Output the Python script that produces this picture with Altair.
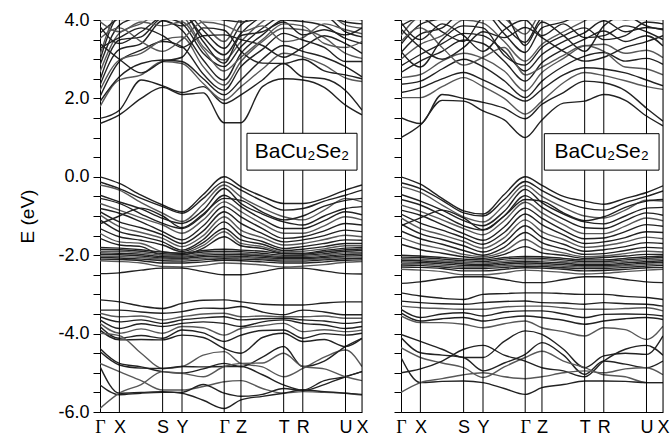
import altair as alt
import pandas as pd

FONT = "Liberation Sans"

# high-symmetry points along the k-path (fraction of path length)
K_NAMES = ["Γ", "X", "S", "Y", "Γ", "Z", "T", "R", "U", "X"]
K_TICKS = [0.0, 0.074, 0.239, 0.313, 0.474, 0.538, 0.701, 0.774, 0.937, 1.0]
# sampling points: Γ, X, mid, S, Y, mid, Γ, Z, mid, T, R, mid, U, X
K_SAMPLES = [0.0, 0.074, 0.157, 0.239, 0.313, 0.394, 0.474, 0.538, 0.620, 0.701, 0.774, 0.856, 0.937, 1.0]

E_TICKS = [-6.0, -5.5, -5.0, -4.5, -4.0, -3.5, -3.0, -2.5, -2.0, -1.5, -1.0,
           -0.5, 0.0, 0.5, 1.0, 1.5, 2.0, 2.5, 3.0, 3.5, 4.0]

LABEL_TEXT = "BaCu₂Se₂"
LEFT_BOX = {"k0": 0.561, "k1": 0.981, "e0": 0.17, "e1": 1.11, "kt": 0.771, "et": 0.64}
RIGHT_BOX = {"k0": 0.547, "k1": 0.985, "e0": 0.17, "e1": 1.10, "kt": 0.766, "et": 0.64}

# ---------------- left panel bands (eV) ----------------
LEFT_COND = [
    [1.36, 1.58, 2.00, 2.28, 2.10, 2.14, 1.38, 1.38, 2.30, 2.50, 2.47, 2.28, 1.83, 1.58],
    [1.49, 1.70, 2.47, 2.32, 2.15, 2.30, 1.87, 2.09, 2.47, 2.89, 2.55, 2.50, 2.20, 1.70],
    [1.79, 2.47, 2.60, 2.94, 2.89, 2.38, 1.96, 2.30, 2.75, 3.15, 3.06, 2.85, 2.52, 2.43],
    [1.92, 2.55, 2.89, 2.98, 2.94, 2.50, 2.09, 2.47, 3.00, 3.35, 3.20, 3.05, 2.81, 2.55],
    [2.04, 2.94, 3.23, 3.45, 3.32, 2.62, 2.21, 2.81, 3.25, 3.66, 3.49, 3.30, 2.94, 2.94],
    [2.21, 2.98, 3.15, 3.49, 3.57, 2.81, 2.34, 2.94, 3.45, 3.79, 3.75, 3.55, 3.15, 3.02],
    [2.34, 3.25, 3.40, 3.98, 3.74, 2.98, 2.47, 3.15, 3.62, 4.00, 3.96, 3.85, 3.53, 3.40],
    [2.47, 3.49, 3.57, 4.05, 3.91, 3.15, 2.81, 3.32, 3.79, 4.10, 4.10, 4.10, 3.70, 3.57],
    [2.68, 3.66, 3.91, 4.20, 4.10, 3.32, 2.98, 3.45, 3.96, 4.20, 4.20, 4.20, 3.87, 3.79],
    [2.85, 3.87, 4.10, 4.30, 4.20, 3.57, 3.11, 3.66, 4.10, 4.30, 4.30, 4.30, 4.10, 4.00],
    [2.98, 4.10, 4.20, 4.40, 4.30, 3.74, 3.28, 3.87, 4.20, 4.40, 4.40, 4.40, 4.20, 4.10],
    [3.11, 4.20, 4.30, 4.50, 4.40, 3.91, 3.45, 4.05, 4.30, 4.50, 4.50, 4.50, 4.30, 4.20],
    [3.28, 3.55, 3.80, 3.60, 3.30, 3.60, 3.62, 3.50, 3.35, 3.05, 3.30, 3.60, 3.40, 3.15],
    [3.40, 3.00, 2.65, 2.94, 3.05, 3.80, 3.74, 3.20, 2.90, 2.89, 3.00, 2.70, 2.60, 2.50],
    [3.53, 3.80, 3.45, 3.20, 3.50, 3.95, 3.87, 3.70, 3.85, 3.45, 3.55, 3.90, 3.75, 3.65],
    [3.66, 4.05, 4.20, 4.00, 3.85, 4.10, 4.00, 3.95, 4.05, 4.15, 4.05, 4.10, 3.95, 3.90],
    [3.83, 3.40, 3.70, 4.10, 4.20, 3.45, 2.90, 3.60, 3.70, 3.95, 3.62, 3.75, 3.62, 3.80],
    [3.96, 3.70, 3.95, 3.85, 3.95, 3.25, 2.70, 3.05, 3.50, 3.90, 3.85, 3.40, 3.30, 3.45],
]
LEFT_VAL = [
    [0.00, -0.17, -0.47, -0.72, -0.89, -0.45, 0.00, -0.25, -0.50, -0.68, -0.68, -0.55, -0.34, -0.21],
    [-0.13, -0.30, -0.55, -0.76, -0.93, -0.55, -0.13, -0.34, -0.62, -0.85, -0.81, -0.62, -0.47, -0.34],
    [-0.21, -0.34, -0.66, -0.93, -1.14, -0.70, -0.21, -0.51, -0.80, -1.02, -1.10, -0.85, -0.55, -0.64],
    [-0.47, -0.64, -0.82, -1.06, -1.19, -0.85, -0.30, -0.68, -0.95, -1.15, -1.23, -1.00, -0.81, -0.76],
    [-0.55, -0.68, -0.95, -1.19, -1.32, -0.98, -0.47, -0.76, -1.08, -1.32, -1.32, -1.12, -0.89, -0.97],
    [-0.68, -0.85, -1.05, -1.23, -1.44, -1.10, -0.64, -0.89, -1.20, -1.44, -1.44, -1.25, -1.02, -1.10],
    [-0.81, -0.93, -1.15, -1.40, -1.61, -1.25, -0.76, -1.02, -1.32, -1.57, -1.53, -1.38, -1.19, -1.23],
    [-0.89, -1.15, -1.30, -1.48, -1.70, -1.38, -0.89, -1.19, -1.45, -1.66, -1.61, -1.50, -1.36, -1.40],
    [-0.97, -1.27, -1.42, -1.57, -1.78, -1.50, -1.02, -1.36, -1.55, -1.74, -1.70, -1.60, -1.49, -1.53],
    [-1.10, -1.40, -1.52, -1.66, -1.87, -1.60, -1.15, -1.49, -1.65, -1.83, -1.78, -1.70, -1.61, -1.62],
    [-1.32, -1.53, -1.62, -1.74, -1.91, -1.68, -1.32, -1.61, -1.72, -1.88, -1.85, -1.78, -1.70, -1.70],
    [-1.44, -1.66, -1.70, -1.91, -1.95, -1.75, -1.40, -1.70, -1.78, -1.92, -1.90, -1.84, -1.76, -1.76],
    [-1.57, -1.74, -1.78, -2.00, -2.00, -1.82, -1.53, -1.76, -1.83, -1.95, -1.95, -1.88, -1.82, -1.80],
    [-1.20, -1.00, -0.80, -1.00, -1.30, -0.95, -0.55, -0.60, -0.90, -1.10, -1.00, -0.75, -0.60, -0.55],
]
LEFT_D = [
    [-1.80, -1.82, -1.86, -1.92, -1.95, -1.88, -1.85, -1.87, -1.90, -1.96, -1.97, -1.92, -1.86, -1.84],
    [-1.85, -1.86, -1.90, -1.96, -1.98, -1.92, -1.90, -1.91, -1.95, -2.00, -2.00, -1.96, -1.90, -1.88],
    [-1.90, -1.90, -1.94, -2.00, -2.02, -1.96, -1.94, -1.95, -1.99, -2.03, -2.03, -1.99, -1.94, -1.93],
    [-1.94, -1.95, -1.98, -2.04, -2.05, -2.00, -1.98, -1.99, -2.02, -2.06, -2.06, -2.03, -1.98, -1.97],
    [-1.98, -1.99, -2.02, -2.07, -2.08, -2.04, -2.02, -2.03, -2.06, -2.09, -2.09, -2.06, -2.02, -2.01],
    [-2.02, -2.03, -2.06, -2.10, -2.11, -2.08, -2.06, -2.06, -2.09, -2.12, -2.12, -2.09, -2.05, -2.05],
    [-2.06, -2.07, -2.10, -2.14, -2.15, -2.12, -2.09, -2.10, -2.12, -2.15, -2.15, -2.12, -2.09, -2.08],
    [-2.10, -2.11, -2.14, -2.20, -2.20, -2.17, -2.13, -2.14, -2.17, -2.20, -2.20, -2.17, -2.13, -2.12],
    [-2.14, -2.16, -2.20, -2.29, -2.30, -2.26, -2.20, -2.21, -2.25, -2.30, -2.28, -2.24, -2.18, -2.16],
    [-2.47, -2.45, -2.38, -2.33, -2.33, -2.42, -2.50, -2.50, -2.42, -2.33, -2.33, -2.40, -2.47, -2.48],
]
LEFT_LOW = [
    [-3.14, -3.19, -3.30, -3.36, -3.23, -3.15, -3.14, -3.19, -3.25, -3.27, -3.27, -3.22, -3.19, -3.19],
    [-3.40, -3.40, -3.45, -3.48, -3.44, -3.35, -3.36, -3.31, -3.45, -3.52, -3.40, -3.45, -3.52, -3.52],
    [-3.48, -3.57, -3.55, -3.65, -3.57, -3.50, -3.48, -3.57, -3.55, -3.57, -3.57, -3.55, -3.61, -3.61],
    [-3.57, -3.70, -3.65, -3.74, -3.65, -3.60, -3.57, -3.65, -3.62, -3.61, -3.65, -3.68, -3.74, -3.70],
    [-3.65, -3.87, -3.75, -3.82, -3.74, -3.70, -3.74, -3.82, -3.70, -3.65, -3.74, -3.78, -3.87, -3.82],
    [-3.74, -3.99, -3.88, -3.99, -3.82, -3.85, -4.04, -3.87, -3.80, -3.74, -3.95, -3.90, -3.95, -3.91],
    [-3.82, -4.12, -4.05, -4.12, -3.91, -3.98, -4.20, -4.04, -3.92, -3.91, -4.12, -4.00, -4.04, -3.99],
    [-3.91, -4.16, -4.15, -4.16, -4.04, -4.10, -4.38, -4.50, -4.10, -3.99, -4.20, -4.15, -4.33, -4.12],
    [-3.99, -4.05, -4.50, -4.89, -4.84, -4.55, -4.46, -4.76, -4.85, -5.10, -4.89, -4.60, -4.42, -4.84],
    [-4.38, -4.76, -4.85, -4.97, -5.01, -4.90, -4.76, -4.84, -4.60, -4.33, -4.84, -4.70, -4.33, -4.12],
    [-4.46, -4.80, -4.88, -4.89, -4.84, -4.85, -4.84, -4.84, -5.05, -5.31, -5.44, -5.20, -5.10, -4.97],
    [-4.76, -4.97, -5.20, -5.44, -5.44, -5.35, -5.23, -5.20, -5.40, -5.52, -5.48, -5.50, -5.52, -5.57],
    [-4.84, -5.52, -5.50, -5.48, -5.52, -5.70, -5.91, -5.69, -5.60, -5.52, -5.44, -5.48, -5.52, -5.55],
    [-5.31, -5.56, -5.52, -5.50, -5.50, -5.30, -5.52, -5.60, -5.55, -5.40, -5.45, -5.30, -5.10, -4.97],
    [-5.91, -5.52, -5.30, -4.97, -5.01, -5.10, -4.84, -4.76, -4.75, -4.50, -4.84, -4.90, -5.10, -5.20],
]

# ---------------- right panel bands (eV) ----------------
RIGHT_COND = [
    [1.00, 1.32, 1.95, 1.93, 1.68, 1.45, 1.00, 1.45, 1.88, 1.93, 2.10, 1.95, 1.55, 1.30],
    [1.51, 1.36, 2.10, 2.00, 1.90, 1.75, 1.48, 1.85, 2.15, 2.44, 2.40, 2.20, 1.75, 1.42],
    [2.02, 2.02, 2.30, 2.53, 2.30, 2.00, 1.60, 1.93, 2.40, 2.66, 2.58, 2.45, 2.30, 2.23],
    [2.15, 2.27, 2.50, 2.66, 2.47, 2.20, 1.93, 2.23, 2.60, 2.78, 2.75, 2.65, 2.47, 2.32],
    [2.36, 2.44, 2.75, 3.00, 2.81, 2.45, 2.02, 2.44, 2.82, 3.08, 3.17, 2.95, 3.02, 2.87],
    [2.53, 2.61, 2.95, 3.15, 3.02, 2.70, 2.19, 2.66, 3.02, 3.34, 3.38, 3.15, 3.23, 3.04],
    [2.66, 2.95, 3.20, 3.49, 3.40, 2.95, 2.44, 2.91, 3.25, 3.51, 3.72, 3.45, 3.60, 3.34],
    [2.83, 3.12, 3.40, 3.66, 3.60, 3.20, 2.70, 3.12, 3.45, 3.68, 3.98, 3.70, 3.81, 3.77],
    [3.00, 3.38, 3.60, 4.00, 3.92, 3.45, 2.95, 3.38, 3.70, 3.98, 4.20, 4.00, 4.10, 4.10],
    [3.17, 3.64, 3.80, 4.20, 4.20, 3.65, 3.17, 3.80, 3.95, 4.20, 4.30, 4.20, 4.30, 4.30],
    [3.38, 3.89, 4.05, 4.30, 4.30, 3.85, 3.43, 4.06, 4.20, 4.30, 4.40, 4.30, 4.40, 4.40],
    [3.60, 4.10, 4.20, 4.40, 4.40, 4.05, 3.64, 4.20, 4.30, 4.40, 4.50, 4.40, 4.50, 4.50],
    [3.77, 3.30, 3.00, 3.30, 3.70, 3.55, 3.81, 3.55, 3.20, 2.95, 3.05, 3.30, 3.45, 3.60],
    [3.94, 3.50, 3.90, 3.60, 3.20, 3.75, 4.00, 3.60, 3.90, 3.55, 3.60, 3.85, 3.70, 3.50],
    [3.45, 3.80, 3.30, 2.85, 3.05, 3.30, 2.60, 2.80, 3.10, 3.35, 3.20, 2.80, 2.75, 2.60],
    [3.20, 2.80, 3.50, 3.85, 3.80, 3.10, 2.85, 3.30, 3.60, 3.80, 3.50, 3.60, 3.95, 3.90],
    [3.85, 4.05, 3.70, 3.45, 4.05, 4.10, 3.35, 3.95, 3.60, 3.20, 3.85, 4.10, 3.85, 3.75],
]
RIGHT_VAL = [
    [0.00, -0.19, -0.55, -0.87, -0.95, -0.45, 0.00, -0.22, -0.50, -0.62, -0.70, -0.55, -0.40, -0.23],
    [-0.15, -0.30, -0.60, -0.92, -1.00, -0.58, -0.12, -0.35, -0.62, -0.80, -0.85, -0.66, -0.50, -0.36],
    [-0.25, -0.40, -0.72, -1.02, -1.15, -0.72, -0.22, -0.50, -0.78, -1.00, -1.05, -0.85, -0.60, -0.62],
    [-0.45, -0.62, -0.85, -1.12, -1.25, -0.88, -0.32, -0.66, -0.95, -1.15, -1.20, -1.00, -0.80, -0.78],
    [-0.58, -0.72, -0.98, -1.25, -1.36, -1.00, -0.48, -0.78, -1.08, -1.30, -1.32, -1.12, -0.92, -0.98],
    [-0.72, -0.88, -1.10, -1.32, -1.48, -1.12, -0.65, -0.92, -1.22, -1.45, -1.45, -1.26, -1.05, -1.12],
    [-0.85, -0.98, -1.22, -1.45, -1.62, -1.28, -0.80, -1.06, -1.36, -1.58, -1.56, -1.40, -1.22, -1.26],
    [-0.95, -1.18, -1.36, -1.55, -1.72, -1.42, -0.95, -1.22, -1.48, -1.70, -1.66, -1.55, -1.40, -1.42],
    [-1.05, -1.32, -1.48, -1.65, -1.82, -1.55, -1.10, -1.40, -1.60, -1.80, -1.76, -1.66, -1.54, -1.58],
    [-1.20, -1.45, -1.60, -1.76, -1.92, -1.68, -1.25, -1.54, -1.72, -1.90, -1.86, -1.78, -1.68, -1.70],
    [-1.38, -1.58, -1.72, -1.88, -2.00, -1.80, -1.42, -1.68, -1.84, -1.98, -1.96, -1.88, -1.80, -1.82],
    [-1.55, -1.72, -1.84, -1.98, -2.04, -1.90, -1.60, -1.82, -1.94, -2.04, -2.02, -1.96, -1.90, -1.92],
    [-1.72, -1.86, -1.95, -2.04, -2.08, -1.98, -1.78, -1.94, -2.00, -2.08, -2.06, -2.02, -1.98, -1.98],
    [-1.25, -1.05, -0.85, -1.05, -1.35, -1.00, -0.58, -0.62, -0.92, -1.12, -1.02, -0.78, -0.62, -0.58],
]
RIGHT_D = [
    [-2.00, -2.02, -2.06, -2.10, -2.12, -2.06, -2.03, -2.04, -2.08, -2.12, -2.12, -2.08, -2.04, -2.02],
    [-2.05, -2.06, -2.10, -2.14, -2.16, -2.10, -2.07, -2.08, -2.12, -2.16, -2.16, -2.12, -2.08, -2.06],
    [-2.09, -2.10, -2.14, -2.18, -2.20, -2.15, -2.12, -2.12, -2.16, -2.20, -2.20, -2.16, -2.12, -2.10],
    [-2.13, -2.14, -2.18, -2.22, -2.24, -2.19, -2.16, -2.17, -2.20, -2.24, -2.24, -2.20, -2.16, -2.14],
    [-2.17, -2.18, -2.22, -2.26, -2.27, -2.23, -2.20, -2.21, -2.24, -2.27, -2.27, -2.24, -2.20, -2.18],
    [-2.21, -2.22, -2.26, -2.30, -2.30, -2.27, -2.24, -2.25, -2.28, -2.30, -2.30, -2.27, -2.24, -2.22],
    [-2.25, -2.26, -2.30, -2.34, -2.34, -2.31, -2.28, -2.29, -2.32, -2.34, -2.34, -2.31, -2.28, -2.26],
    [-2.30, -2.31, -2.34, -2.40, -2.40, -2.36, -2.32, -2.33, -2.36, -2.40, -2.39, -2.36, -2.32, -2.31],
    [-2.36, -2.38, -2.42, -2.50, -2.50, -2.45, -2.38, -2.40, -2.44, -2.48, -2.46, -2.42, -2.38, -2.36],
    [-2.72, -2.68, -2.60, -2.55, -2.55, -2.62, -2.70, -2.70, -2.62, -2.55, -2.55, -2.62, -2.68, -2.70],
]
RIGHT_LOW = [
    [-2.96, -3.04, -3.10, -3.13, -3.00, -2.98, -2.96, -2.96, -2.98, -3.00, -3.00, -3.05, -3.08, -3.13],
    [-3.17, -3.21, -3.24, -3.25, -3.21, -3.18, -3.17, -3.21, -3.22, -3.25, -3.21, -3.24, -3.25, -3.30],
    [-3.30, -3.34, -3.36, -3.38, -3.38, -3.32, -3.30, -3.30, -3.34, -3.38, -3.38, -3.36, -3.34, -3.42],
    [-3.38, -3.59, -3.50, -3.47, -3.55, -3.45, -3.42, -3.42, -3.50, -3.59, -3.51, -3.50, -3.51, -3.55],
    [-3.47, -3.68, -3.62, -3.59, -3.68, -3.60, -3.55, -3.59, -3.66, -3.76, -3.68, -3.62, -3.59, -3.64],
    [-3.55, -3.72, -3.72, -3.76, -3.85, -3.75, -3.68, -3.85, -3.95, -4.06, -3.85, -3.90, -4.15, -3.81],
    [-4.02, -4.20, -4.40, -4.61, -4.61, -4.20, -3.93, -4.02, -4.40, -4.87, -4.57, -4.50, -4.53, -4.06],
    [-4.10, -4.49, -4.55, -4.61, -4.95, -4.75, -4.53, -4.23, -4.55, -5.04, -4.70, -4.78, -4.87, -4.70],
    [-4.36, -4.61, -4.75, -4.87, -5.12, -4.85, -4.61, -4.45, -4.70, -4.87, -5.05, -5.10, -5.25, -5.25],
    [-4.61, -5.25, -5.22, -5.21, -5.25, -5.40, -5.55, -5.38, -5.30, -5.21, -5.21, -5.22, -5.25, -5.25],
    [-5.00, -4.90, -4.70, -4.40, -4.30, -4.55, -4.70, -4.87, -4.95, -5.10, -4.70, -4.40, -4.30, -4.55],
    [-5.50, -5.25, -5.15, -5.05, -5.00, -5.10, -5.15, -5.10, -5.00, -4.95, -5.00, -4.90, -4.87, -5.05],
]


def bands_frame(groups):
    rows = []
    b = 0
    for bands in groups:
        for i, vals in enumerate(bands):
            shade = "gray" if i % 3 == 2 else "dark"
            for k, e in zip(K_SAMPLES, vals):
                rows.append({"band": b, "k": k, "E": e, "shade": shade})
            b += 1
    return pd.DataFrame(rows)


x_label_expr = ""
for pos, name in zip(K_TICKS, K_NAMES):
    x_label_expr += f"abs(datum.value - {pos}) < 0.005 ? '{name}' : "
x_label_expr += "''"

gamma_test = " || ".join(f"abs(datum.value - {pos}) < 0.005"
                         for pos, name in zip(K_TICKS, K_NAMES) if name == "Γ")

y_label_expr = ("abs(datum.value % 2) < 0.01 ? (datum.value < 0 ? '-' : '') + "
                "format(abs(datum.value), '.1f') : ''")

XSCALE = alt.Scale(domain=[0, 1], nice=False, zero=False)
YSCALE = alt.Scale(domain=[-6, 4], nice=False, zero=False)


def panel(df, box, first):
    x_axis = alt.Axis(values=K_TICKS, labelExpr=x_label_expr, ticks=False, grid=False,
                      title=None, labelFlush=False, labelOverlap=False, labelFontSize=18,
                      labelFont={"condition": {"test": gamma_test, "value": "Liberation Serif"},
                                 "value": FONT},
                      labelColor="black", labelPadding=6,
                      domainColor="black", domainWidth=1)
    if first:
        y_axis = alt.Axis(values=E_TICKS, labelExpr=y_label_expr, tickSize=7, tickColor="black",
                          tickWidth=1, grid=False, domainColor="black", domainWidth=1,
                          title="E (eV)", titleFont=FONT, titleFontSize=19,
                          titleFontWeight="normal", titleColor="black", titlePadding=20,
                          labelFont=FONT, labelFontSize=18, labelColor="black",
                          labelPadding=4, labelOverlap=False)
    else:
        y_axis = alt.Axis(values=E_TICKS, labels=False, tickSize=7, tickColor="black",
                          tickWidth=1, grid=False, domainColor="black", domainWidth=1,
                          title=None)
    lines = alt.Chart(df).mark_line(interpolate="monotone", clip=True, strokeWidth=1.4).encode(
        x=alt.X("k:Q", scale=XSCALE, axis=x_axis),
        y=alt.Y("E:Q", scale=YSCALE, axis=y_axis),
        detail="band:N",
        color=alt.Color("shade:N", scale=alt.Scale(domain=["dark", "gray"],
                                                   range=["#222222", "#585858"]), legend=None),
    )
    rules = alt.Chart(pd.DataFrame({"k": K_TICKS[1:]})).mark_rule(
        color="black", strokeWidth=1).encode(x=alt.X("k:Q", scale=XSCALE, axis=x_axis))
    bdf = pd.DataFrame([box])
    rect = alt.Chart(bdf).mark_rect(fill="white", stroke="black", strokeWidth=1).encode(
        x=alt.X("k0:Q", scale=XSCALE, axis=x_axis), x2="k1:Q",
        y=alt.Y("e0:Q", scale=YSCALE, axis=y_axis), y2="e1:Q")
    text = alt.Chart(bdf.assign(t=LABEL_TEXT)).mark_text(
        font=FONT, fontSize=21, color="black").encode(
        x=alt.X("kt:Q", scale=XSCALE, axis=x_axis),
        y=alt.Y("et:Q", scale=YSCALE, axis=y_axis), text="t:N")
    return alt.layer(lines, rules, rect, text).properties(width=262, height=392)


left = panel(bands_frame([LEFT_COND, LEFT_VAL, LEFT_D, LEFT_LOW]), LEFT_BOX, True)
right = panel(bands_frame([RIGHT_COND, RIGHT_VAL, RIGHT_D, RIGHT_LOW]), RIGHT_BOX, False)

chart = alt.hconcat(left, right, spacing=24).properties(
    padding={"left": 18, "top": 10, "right": 0, "bottom": 0}
).configure_view(stroke=None).configure(background="white")

chart.save("out.html", embed_options={"renderer": "svg", "actions": False})
